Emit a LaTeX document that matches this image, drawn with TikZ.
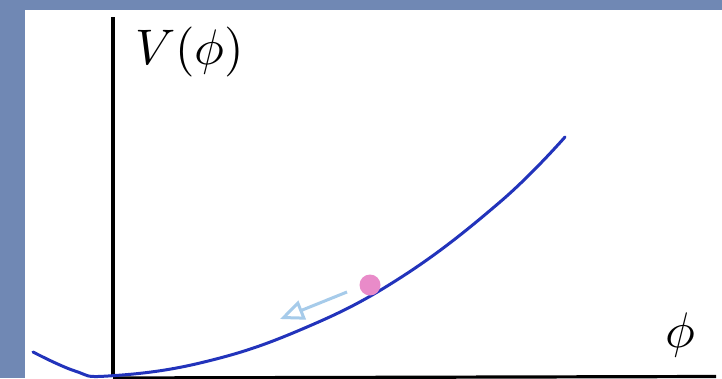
\documentclass[tikz,border=0pt]{standalone}
\usepackage{amsmath}
\usepackage{tikz}
\usetikzlibrary{arrows.meta,positioning}
\definecolor{denim}{HTML}{7088B4}
\definecolor{paper}{HTML}{FFFFFF}
\definecolor{ink}{HTML}{000000}
\definecolor{pot}{HTML}{2233BB}
\definecolor{ball}{HTML}{E98BC9}
\definecolor{roll}{HTML}{A6CBEA}
\begin{document}
\begin{tikzpicture}[x=1pt,y=1pt]
  \def\xo{113}\def\yo{1.5}
  \useasboundingbox (0,0) rectangle (722,378);
  \fill[denim] (0,0) rectangle (722,378);
  \fill[paper] (25,0) rectangle (722,368);
  % axes
  \coordinate (origin) at (\xo,\yo);
  \coordinate (ytop) at (\xo,361);
  \coordinate (xend) at (716,\yo);
  \draw[ink,line width=3.2pt] (origin) -- (ytop);
  \draw[ink,line width=3.2pt] (\xo,0) -- (xend);
  \node[anchor=base west,inner sep=0pt,scale=5] (vlabel) at (134,313) {$V(\phi)$};
  \node[anchor=base,inner sep=0pt,scale=5] (philabel) at (680,31) {$\phi$};
  % potential
  \draw[pot,line width=3pt,line cap=round] plot[smooth,tension=0.7] coordinates
    {(33,26) (75,7) (108,2) (200,15) (300,48) (400,100) (500,176) (565,241)};
  % rolling field
  \node[circle,fill=ball,inner sep=0pt,minimum size=21pt] (field) at (370,93) {};
  \coordinate (rstart) at (347,86);
  \coordinate (rend) at (280,59);
  \draw[roll,line width=3pt,-{Triangle[open,length=24pt,width=20pt,line width=3pt]}] (rstart) -- (rend);
\end{tikzpicture}
\end{document}
